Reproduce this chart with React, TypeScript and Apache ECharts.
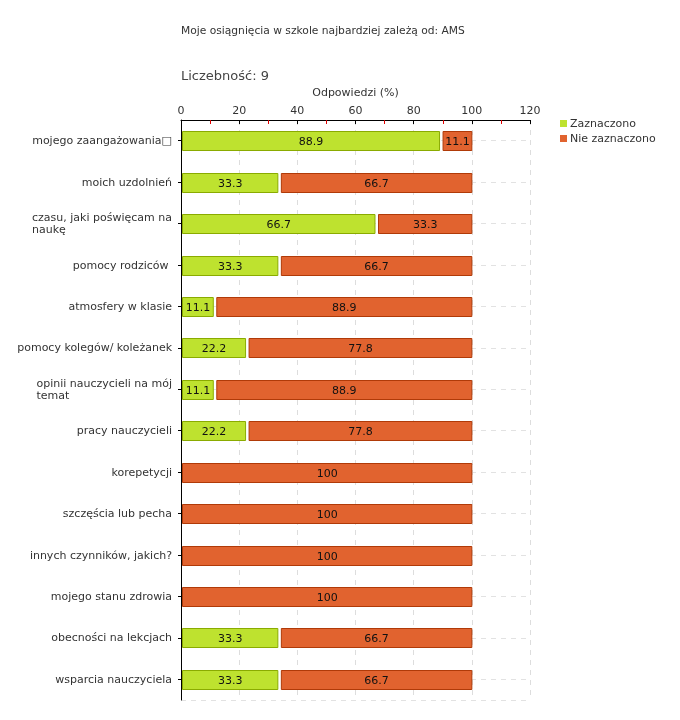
import React, { useEffect, useRef } from "react";
import * as echarts from "echarts";

const titleText = "Moje osiągnięcia w szkole najbardziej zależą od: AMS";
const countText = "Liczebność: 9";
const axisName = "Odpowiedzi (%)";
const seriesNames = ["Zaznaczono", "Nie zaznaczono"];

const categories = [
  "mojego zaangażowania\u25A1",
  "moich uzdolnień",
  "czasu, jaki poświęcam na\nnaukę",
  "pomocy rodziców ",
  "atmosfery w klasie",
  "pomocy kolegów/ koleżanek",
  "opinii nauczycieli na mój\ntemat",
  "pracy nauczycieli",
  "korepetycji",
  "szczęścia lub pecha",
  "innych czynników, jakich?",
  "mojego stanu zdrowia",
  "obecności na lekcjach",
  "wsparcia nauczyciela",
];

const zaznaczono = [88.9, 33.3, 66.7, 33.3, 11.1, 22.2, 11.1, 22.2, 0, 0, 0, 0, 33.3, 33.3];
const nieZaznaczono = [11.1, 66.7, 33.3, 66.7, 88.9, 77.8, 88.9, 77.8, 100, 100, 100, 100, 66.7, 66.7];

const FONT = "'DejaVu Sans', Verdana, sans-serif";
const GREEN = "#bee22f";
const GREEN_BORDER = "#8aab00";
const ORANGE = "#e1632f";
const ORANGE_BORDER = "#b03a08";

export default function App() {
  const ref = useRef<HTMLDivElement>(null);

  useEffect(() => {
    if (!ref.current) return;
    const chart = echarts.init(ref.current, null, { renderer: "svg" });

    const greenData = zaznaczono.map((v, i) => [i, 0, v, v, 0]);
    const orangeData = nieZaznaczono.map((v, i) => [i, zaznaczono[i], zaznaczono[i] + v, v, 1]);

    const makeRender = (fill: string, stroke: string) => (params: any, api: any) => {
      const cat = api.value(0);
      const s = api.value(1);
      const e = api.value(2);
      const v = api.value(3);
      if (!v) return null;
      const p0 = api.coord([s, cat]);
      const p1 = api.coord([e, cat]);
      const bandH = api.size([0, 1])[1];
      const h = Math.round(bandH * 0.46);
      let x0 = p0[0] + 1.5;
      if (s > 0) x0 = p0[0] + 3.5;
      const x1 = p1[0];
      const y = Math.round(p0[1] - h / 2) + 0.5;
      return {
        type: "group",
        children: [
          {
            type: "rect",
            shape: { x: x0, y: y, width: x1 - x0, height: h },
            style: { fill, stroke, lineWidth: 1 },
          },
          {
            type: "text",
            style: {
              text: v === 100 ? "100" : v.toFixed(1),
              x: (x0 + x1) / 2,
              y: y + h / 2,
              align: "center",
              verticalAlign: "middle",
              textAlign: "center",
              textVerticalAlign: "middle",
              fontSize: 11,
              fontFamily: FONT,
              fill: "#111",
            },
          },
        ],
      };
    };

    const halfCats = Array.from({ length: categories.length * 2 }, (_, i) => String(i));

    chart.setOption({
      animation: false,
      textStyle: { fontFamily: FONT },
      title: [
        {
          text: titleText,
          left: 176,
          top: 20,
          textStyle: { fontSize: 10.7, fontWeight: "normal", color: "#333", fontFamily: FONT },
        },
        {
          text: countText,
          left: 176,
          top: 64,
          textStyle: { fontSize: 13, fontWeight: "normal", color: "#444", fontFamily: FONT },
        },
      ],
      legend: {
        orient: "vertical",
        left: 555,
        top: 113,
        itemWidth: 7,
        itemHeight: 7,
        itemGap: 4,
        icon: "rect",
        textStyle: { fontSize: 11, color: "#333", fontFamily: FONT, padding: [0, 0, 0, -2] },
        data: seriesNames,
      },
      grid: { left: 181, right: 150, top: 120, bottom: 20, containLabel: false },
      xAxis: {
        type: "value",
        position: "top",
        min: 0,
        max: 120,
        interval: 20,
        name: axisName,
        nameLocation: "middle",
        nameGap: 22,
        nameTextStyle: { fontSize: 11, color: "#333", fontFamily: FONT },
        axisLine: { show: true, lineStyle: { color: "#000", width: 1 } },
        axisTick: { show: true, inside: true, length: 4, lineStyle: { color: "#000" } },
        minorTick: { show: true, splitNumber: 2, length: 4, lineStyle: { color: "#e00000" } },
        axisLabel: { fontSize: 11, color: "#333", margin: 4, fontFamily: FONT },
        splitLine: { show: true, lineStyle: { color: "#dddddd", type: [5, 5] } },
      },
      yAxis: [
        {
          type: "category",
          inverse: true,
          data: categories,
          axisLine: { show: true, lineStyle: { color: "#000", width: 1 } },
          axisTick: { show: true, alignWithLabel: true, length: 3, lineStyle: { color: "#000" } },
          splitLine: { show: false },
          axisLabel: {
            fontSize: 11,
            color: "#333",
            margin: 9,
            fontFamily: FONT,
            formatter: (v: string) =>
              v
                .split("\n")
                .map((l) => `{a|${l}}`)
                .join("\n"),
            rich: {
              a: { fontSize: 11, color: "#333", align: "left", fontFamily: FONT, lineHeight: 12 },
            },
          },
        },
        {
          type: "category",
          inverse: true,
          data: halfCats,
          axisLine: { show: false },
          axisTick: { show: false },
          axisLabel: { show: false },
          splitLine: {
            show: true,
            interval: (i: number) => i % 2 === 1,
            lineStyle: { color: "#e2e2e2", type: [5, 5] },
          },
        },
      ],
      series: [
        {
          name: seriesNames[0],
          type: "custom",
          yAxisIndex: 0,
          itemStyle: { color: GREEN },
          encode: { x: [1, 2], y: 0 },
          renderItem: makeRender(GREEN, GREEN_BORDER),
          data: greenData,
          z: 3,
        },
        {
          name: seriesNames[1],
          type: "custom",
          yAxisIndex: 0,
          itemStyle: { color: ORANGE },
          encode: { x: [1, 2], y: 0 },
          renderItem: makeRender(ORANGE, ORANGE_BORDER),
          data: orangeData,
          z: 3,
        },
      ],
    });

    return () => chart.dispose();
  }, []);

  return (
    <div
      ref={ref}
      style={{ position: "fixed", left: 0, top: 0, width: 680, height: 720 }}
    />
  );
}
